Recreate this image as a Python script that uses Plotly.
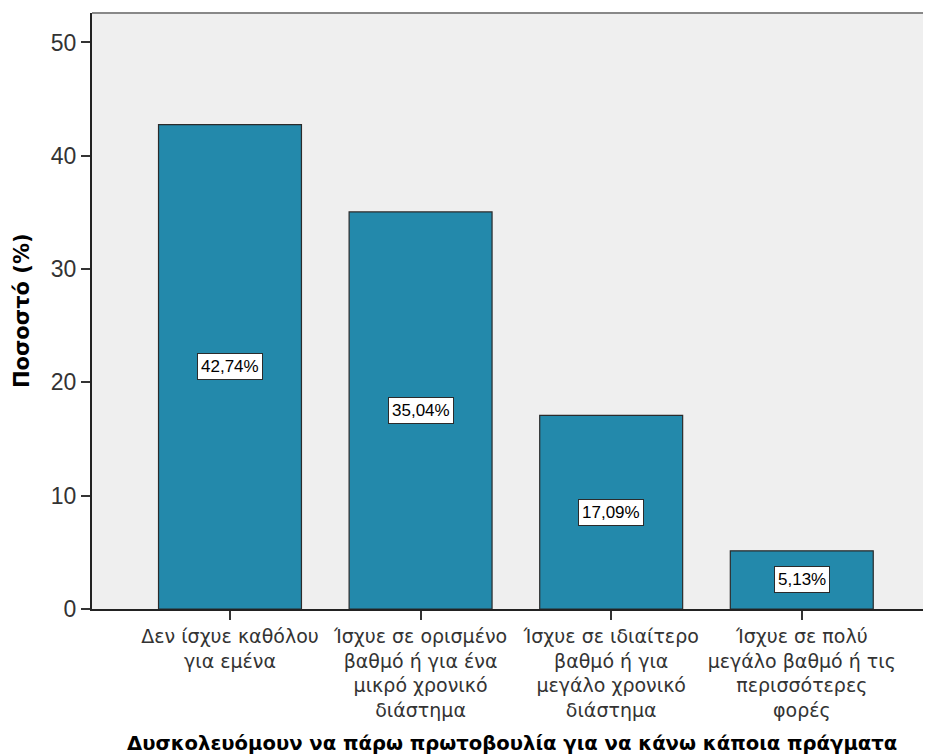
import plotly.graph_objects as go

# Data
categories = [
    "Δεν ίσχυε καθόλου<br>για εμένα",
    "Ίσχυε σε ορισμένο<br>βαθμό ή για ένα<br>μικρό χρονικό<br>διάστημα",
    "Ίσχυε σε ιδιαίτερο<br>βαθμό ή για<br>μεγάλο χρονικό<br>διάστημα",
    "Ίσχυε σε πολύ<br>μεγάλο βαθμό ή τις<br>περισσότερες<br>φορές",
]
percentages = [42.74, 35.04, 17.09, 5.13]
y_ticks = [0, 10, 20, 30, 40, 50]

x_title = "Δυσκολευόμουν να πάρω πρωτοβουλία για να κάνω κάποια πράγματα"
y_title = "Ποσοστό (%)"

bar_color = "#2389AB"
label_font = "Liberation Sans, Arial, sans-serif"
cat_font = "DejaVu Sans, Verdana, sans-serif"
title_font = "DejaVu Sans, Verdana, sans-serif"

fig = go.Figure()
fig.add_trace(go.Bar(
    x=list(range(len(categories))),
    y=percentages,
    width=0.75,
    marker=dict(color=bar_color, line=dict(color="#2b2b2b", width=1.2)),
    hoverinfo="skip",
))

# Value labels in white boxes at mid-bar
for i, v in enumerate(percentages):
    fig.add_annotation(
        x=i, y=v / 2, text=f"{v:.2f}%".replace(".", ","),
        showarrow=False, bgcolor="white", bordercolor="#2b2b2b", borderwidth=1,
        borderpad=3, font=dict(family=label_font, size=17, color="black"),
    )

# page body has an 8px margin, so the layout is shrunk to keep the plot in place
fig.update_layout(
    width=923, height=747,
    margin=dict(l=84, r=0, t=5, b=146),
    plot_bgcolor="#EFEFEF", paper_bgcolor="white",
    showlegend=False,
    font=dict(family=label_font, color="#333333"),
)

fig.update_xaxes(
    range=[-0.724, 3.678],
    tickvals=list(range(len(categories))), ticktext=categories,
    ticks="outside", ticklen=9, tickcolor="#333333", tickwidth=1.5,
    tickfont=dict(family=cat_font, size=19, color="#333333"),
    showline=True, linecolor="#222222", linewidth=2,
    showgrid=False, zeroline=False, mirror=False,
)
fig.update_yaxes(
    range=[0, 52.6],
    tickvals=y_ticks,
    ticks="outside", ticklen=9, tickcolor="#333333", tickwidth=1.5,
    tickfont=dict(size=23, color="#333333"),
    showline=True, linecolor="#222222", linewidth=2,
    showgrid=False, zeroline=False,
)

# Top border of the plot area
fig.add_shape(type="line", xref="paper", yref="paper", x0=0, x1=1, y0=1, y1=1,
              line=dict(color="#888888", width=2))

fig.add_annotation(
    xref="paper", yref="paper", x=0.5, y=0, yshift=-134,
    xanchor="center", yanchor="middle",
    text=f"<b>{x_title}</b>", showarrow=False,
    font=dict(family=title_font, size=19.6, color="black"),
)
fig.add_annotation(
    xref="paper", yref="paper", x=0, xshift=-70, y=0.5,
    xanchor="center", yanchor="middle",
    text=f"<b>{y_title}</b>", showarrow=False, textangle=-90,
    font=dict(family=title_font, size=21, color="black"),
)

fig.write_html("out.html")
